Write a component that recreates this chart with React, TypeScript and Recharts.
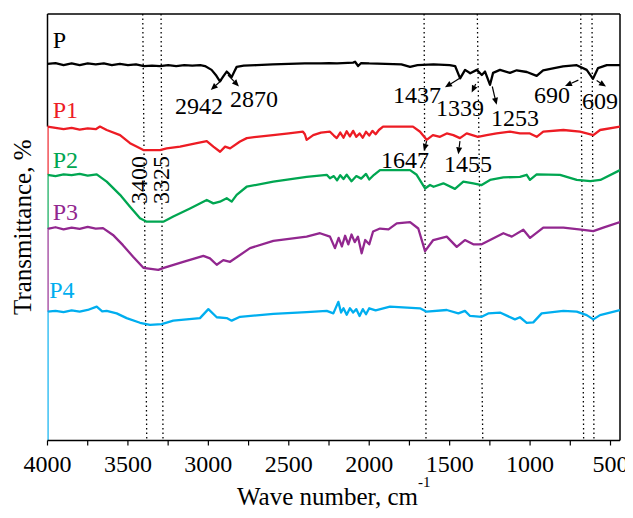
import React from 'react';
import { LineChart, Line, XAxis, YAxis, ReferenceLine, ReferenceDot } from 'recharts';

const FONT = '"Palatino Linotype", "Book Antiqua", Palatino, "Liberation Serif", serif';

// ---- series P (black) ----
const pWave = [4000,3950,3900,3850,3800,3750,3700,3650,3600,3550,3500,3450,3400,3350,3300,3250,3200,3150,3100,3050,3021,2980,2950,2928,2905,2886,2870,2855,2840,2824,2780,2700,2600,2500,2400,2300,2250,2200,2100,2088,2069,2050,2000,1900,1800,1746,1700,1600,1500,1466,1435,1404,1372,1331,1300,1280,1249,1230,1187,1125,1083,1020,959,919,850,795,710,648,609,578,523,441];
const pT = [88.3,88.5,88.0,88.4,88.0,88.4,88.2,88.4,88.0,88.3,88.0,88.2,87.8,87.9,87.8,88.0,87.8,88.0,87.9,88.0,87.8,86.9,85.5,84.2,85.5,86.5,85.9,85.2,86.4,87.6,87.9,88.0,88.2,88.3,88.4,88.4,88.5,88.4,88.6,88.8,87.8,88.5,88.4,88.3,88.2,87.6,88.0,88.2,88.0,87.8,84.9,86.9,86.1,86.9,85.7,86.5,83.4,86.2,86.9,86.2,86.8,86.4,85.5,86.8,87.3,87.7,88.0,86.9,84.8,87.3,88.0,88.0];

// ---- series P1 (red) ----
const p1Wave = [4000,4000,3950,3900,3850,3800,3750,3700,3674,3632,3549,3487,3425,3404,3350,3301,3259,3176,3072,3010,2969,2927,2896,2865,2803,2761,2700,2598,2500,2412,2400,2389,2348,2300,2244,2220,2202,2180,2160,2140,2120,2100,2080,2060,2040,2020,2000,1980,1960,1940,1914,1800,1728,1684,1643,1604,1560,1518,1477,1436,1394,1324,1270,1208,1125,1063,1001,959,918,793,690,648,607,565,441];
const p1T = [62.3,73.6,73.3,73.0,73.3,72.9,73.2,73.0,73.6,72.8,71.6,69.7,68.5,68.1,68.1,68.1,68.5,68.9,69.7,70.2,68.9,67.7,68.9,68.5,70.1,70.9,71.2,71.6,72.0,72.4,71.8,70.5,71.6,72.2,72.4,71.5,70.9,72.2,71.0,72.5,71.3,72.6,71.2,72.0,71.0,72.4,71.5,72.6,71.8,72.8,73.6,73.6,73.6,72.4,70.5,71.6,71.2,72.0,71.6,70.9,72.0,71.2,71.6,72.0,72.4,72.0,72.0,71.2,72.4,72.8,72.4,72.0,71.6,72.8,73.6];

// ---- series P2 (green) ----
const p2Wave = [4000,4000,3950,3900,3850,3800,3750,3694,3632,3549,3487,3425,3383,3280,3218,3114,3010,2969,2928,2886,2855,2824,2762,2596,2389,2264,2244,2220,2200,2180,2160,2140,2110,2080,2050,2020,2000,1970,1933,1746,1705,1653,1622,1600,1539,1467,1415,1353,1301,1249,1166,1063,1021,1001,959,814,710,625,563,441];
const p2T = [49.6,62.3,62.0,62.4,62.2,62.5,62.1,62.4,60.7,57.6,54.8,52.1,51.3,51.3,52.5,54.4,56.4,55.6,56.0,56.8,56.0,57.6,59.5,60.7,61.8,62.3,61.5,62.0,61.0,62.2,61.3,62.3,60.8,62.0,61.4,62.5,61.2,62.3,63.4,63.4,62.3,59.1,59.9,59.5,60.3,59.0,60.7,60.3,59.9,61.1,61.7,61.8,62.3,61.1,62.4,62.3,61.1,60.8,61.1,63.4];

// ---- series P3 (purple) ----
const p3Wave = [4000,4000,3950,3900,3850,3800,3750,3700,3655,3593,3531,3468,3404,3311,3282,3156,3031,2990,2948,2907,2865,2741,2596,2389,2306,2244,2213,2190,2170,2150,2130,2110,2090,2070,2047,2025,2000,1976,1933,1880,1829,1746,1695,1653,1602,1518,1456,1405,1353,1301,1166,1114,1042,1000,918,793,669,607,545,441];
const p3T = [30.2,49.6,50.0,49.5,49.9,49.6,50.1,49.7,49.8,48.2,45.8,43.1,40.5,40.0,40.4,41.9,43.3,42.7,41.2,42.3,41.9,45.1,46.8,47.8,48.6,47.8,45.1,47.5,45.5,48.0,46.0,48.3,46.5,47.8,43.9,47.0,46.0,49.0,49.7,49.5,50.9,51.2,49.7,44.4,47.0,47.8,45.4,47.0,46.0,46.0,48.6,47.8,49.4,47.5,49.9,49.9,49.4,49.1,49.9,51.2];

// ---- series P4 (blue) ----
const p4Wave = [4000,4000,3950,3900,3850,3800,3750,3694,3660,3632,3570,3508,3425,3363,3290,3218,3052,3000,2948,2886,2855,2803,2596,2389,2264,2223,2192,2175,2160,2140,2120,2100,2080,2060,2040,2020,2000,1960,1871,1684,1643,1518,1446,1405,1373,1301,1260,1187,1094,1063,1021,980,928,793,710,648,607,565,441];
const p4T = [0,30.2,30.4,30.1,30.5,30.2,30.6,31.4,30.3,30.4,29.8,28.7,27.6,27.1,27.3,28.1,28.7,30.8,28.9,28.7,28.1,29.0,29.7,30.1,30.4,29.8,32.5,30.0,31.0,29.5,31.0,30.0,30.8,29.2,30.8,29.6,31.0,30.5,31.4,31.0,30.2,30.6,29.8,30.4,29.2,29.0,29.8,30.0,28.4,28.9,27.6,27.7,29.8,30.4,30.2,29.4,28.4,29.4,30.6];

const seriesNames = ['P', 'P1', 'P2', 'P3', 'P4'];
const seriesColors = ['#000000', '#ed1c24', '#00a651', '#92278f', '#00aeef'];
const seriesWaves = [pWave, p1Wave, p2Wave, p3Wave, p4Wave];
const seriesValues = [pT, p1T, p2T, p3T, p4T];
// series name label anchors (left x, baseline)
const nameWave = [3968, 3968, 3968, 3968, 3989];
const nameT = [92.0, 75.5, 63.8, 51.7, 33.3];

const xTicks = [4000,3750,3500,3250,3000,2750,2500,2250,2000,1750,1500,1250,1000,750,500];

// dotted guide lines: [wave at top, wave at bottom]
const guideTop = [3408, 3294, 1659, 1328, 685, 615];
const guideBottom = [3383, 3282, 1647, 1294, 667, 603];

// peak labels (center, baseline)
const peakLabels = ['2942', '2870', '1437', '1339', '1253', '690', '609', '1647', '1455'];
const peakLabelWave = [3058, 2716, 1703, 1436, 1094, 864, 565, 1778, 1386];
const peakLabelT = [76.5, 78.3, 79.1, 76.1, 73.7, 79.1, 77.7, 63.9, 63.0];
// arrows: from (peak) -> tip
const arrowFromWave = [2917, 2878, 1440, 1338, 1235, 700, 586, 1643, 1436];
const arrowFromT = [84.5, 85.7, 84.9, 83.6, 83.0, 84.5, 84.4, 70.2, 70.2];
const arrowToWave = [2985, 2810, 1529, 1363, 1208, 783, 528, 1660, 1446];
const arrowToT = [82.2, 83.0, 82.8, 81.6, 78.7, 83.1, 83.0, 67.9, 67.1];

// rotated labels (baseline position)
const vLabels = ['3400', '3325'];
const vLabelWave = [3381, 3242];
const vLabelT = [61.1, 61.1];

const Arrow = (props: any) => {
  const { x1, y1, x2, y2 } = props;
  const ang = Math.atan2(y2 - y1, x2 - x1);
  const L = 7, W = 3;
  const bx = x2 - L * Math.cos(ang), by = y2 - L * Math.sin(ang);
  const px = -Math.sin(ang) * W, py = Math.cos(ang) * W;
  return (
    <g>
      <line x1={x1} y1={y1} x2={bx} y2={by} stroke="#000" strokeWidth={1.2} />
      <polygon points={`${x2},${y2} ${bx + px},${by + py} ${bx - px},${by - py}`} fill="#000" />
    </g>
  );
};

const makeText = (txt: string, color: string, anchor: string, rotate = false) => (p: any) => (
  <text
    x={p.cx}
    y={p.cy}
    fill={color}
    fontSize={24}
    fontFamily={FONT}
    textAnchor={anchor}
    transform={rotate ? `rotate(-90 ${p.cx} ${p.cy})` : undefined}
  >
    {txt}
  </text>
);

export default function App() {
  const datasets = seriesWaves.map((ws, i) => ws.map((w, j) => ({ w, v: seriesValues[i][j] })));
  return (
    <LineChart width={625} height={510} margin={{ top: 6, right: 13, bottom: 27.5, left: 0 }}>
      <XAxis
        dataKey="w"
        type="number"
        domain={[441, 4000]}
        reversed
        allowDataOverflow
        ticks={xTicks}
        interval={0}
        tickFormatter={(v: number) => (v % 500 === 0 ? String(v) : '')}
        tick={{ fontSize: 24, fontFamily: FONT, fill: '#000' }}
        tickSize={5}
        tickMargin={9.5}
        height={50}
        axisLine={{ stroke: '#000', strokeWidth: 1.5 }}
        tickLine={{ stroke: '#000', strokeWidth: 1.2 }}
        label={{
          content: (props: any) => {
            const vb = props.viewBox;
            return (
              <text x={vb.x + vb.width / 2} y={vb.y + 64.5} textAnchor="middle" fontSize={25} fontFamily={FONT} fill="#000">
                Wave number, cm
                <tspan fontSize={15} dy={-18}>-1</tspan>
              </text>
            );
          },
        }}
      />
      <YAxis
        type="number"
        domain={[0, 100]}
        allowDataOverflow
        width={39.5}
        tick={false}
        tickLine={false}
        axisLine={false}
        label={{
          content: (props: any) => {
            const vb = props.viewBox;
            const cx = vb.x + 14;
            const cy = vb.y + vb.height / 2;
            return (
              <text x={cx} y={cy} textAnchor="middle" dominantBaseline="central" fontSize={25} fontFamily={FONT} fill="#000" transform={`rotate(-90 ${cx} ${cy})`}>
                Transmittance, %
              </text>
            );
          },
        }}
      />
      {/* frame */}
      <ReferenceLine y={100} stroke="#000" strokeWidth={1.5} />
      <ReferenceLine x={441} stroke="#000" strokeWidth={1.5} />
      <ReferenceLine segment={[{ x: 4000, y: 100 }, { x: 4000, y: 73.6 }]} stroke="#000" strokeWidth={1.5} />
      {guideTop.map((t, i) => (
        <ReferenceLine
          key={'g' + i}
          segment={[{ x: t, y: 100 }, { x: guideBottom[i], y: 0 }]}
          stroke="#000"
          strokeWidth={1.3}
          strokeDasharray="1.5 3"
        />
      ))}
      {datasets.map((d, i) => (
        <Line
          key={seriesNames[i]}
          data={d}
          dataKey="v"
          type="linear"
          stroke={seriesColors[i]}
          strokeWidth={2.3}
          strokeLinejoin="round"
          dot={false}
          activeDot={false}
          isAnimationActive={false}
        />
      ))}
      {seriesNames.map((n, i) => (
        <ReferenceDot key={'n' + i} x={nameWave[i]} y={nameT[i]} r={0} shape={makeText(n, seriesColors[i], 'start')} />
      ))}
      {peakLabels.map((l, i) => (
        <ReferenceDot key={'pl' + i} x={peakLabelWave[i]} y={peakLabelT[i]} r={0} shape={makeText(l, '#000', 'middle')} />
      ))}
      {vLabels.map((l, i) => (
        <ReferenceDot key={'vl' + i} x={vLabelWave[i]} y={vLabelT[i]} r={0} shape={makeText(l, '#000', 'middle', true)} />
      ))}
      {arrowFromWave.map((w, i) => (
        <ReferenceLine
          key={'a' + i}
          segment={[{ x: w, y: arrowFromT[i] }, { x: arrowToWave[i], y: arrowToT[i] }]}
          shape={Arrow}
        />
      ))}
    </LineChart>
  );
}
